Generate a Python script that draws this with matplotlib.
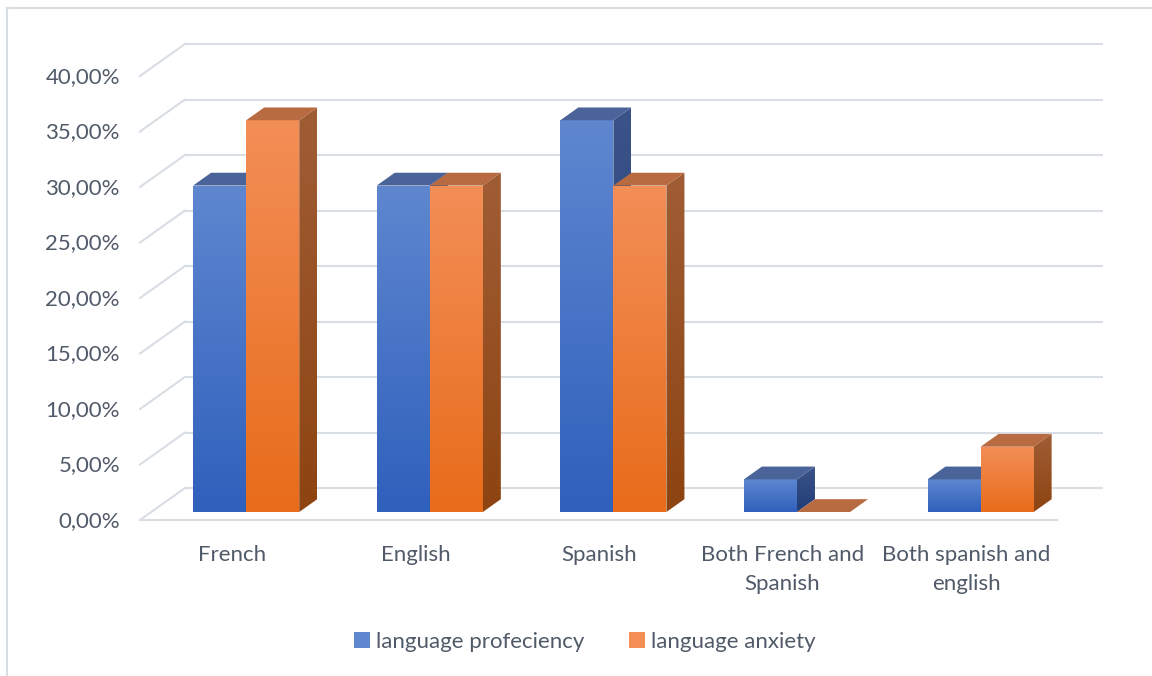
import numpy as np
import matplotlib
matplotlib.use('Agg')
import matplotlib.pyplot as plt
from matplotlib.patches import Polygon, Patch
from matplotlib.lines import Line2D
from matplotlib.colors import LinearSegmentedColormap
from matplotlib.transforms import offset_copy

categories = ['French', 'English', 'Spanish', 'Both French and\nSpanish', 'Both spanish and\nenglish']
proficiency = [29.41, 29.41, 35.29, 2.94, 2.94]
anxiety = [35.29, 29.41, 29.41, 0.0, 5.88]
series_names = ['language profeciency', 'language anxiety']
yticks = [0, 5, 10, 15, 20, 25, 30, 35, 40]

plt.rcParams['font.family'] = ['Lato', 'DejaVu Sans']
txt = '#505a68'
grid = '#d9dde4'
fs = 16

# face colours: front (bottom, top), top face, side (bottom, top)
blue = dict(front=('#2f60bc', '#5f87d0'), top='#4a6399', side=('#223d77', '#3a5489'))
orange = dict(front=('#e86c1a', '#f38e57'), top='#b86a40', side=('#8d4411', '#a05d35'))

W, H = 1152, 676
fig = plt.figure(figsize=(W / 100, H / 100), dpi=100)
ax = fig.add_axes([0, 0, 1, 1])
ax.axis('off')

# pixel scale of the front plane: one category = 183.6 px, 1 % = 11.1 px
px_cat, px_pct = 183.6, 11.1
x_left, y_zero = 140, 520

# oblique depth of the plot box in data units
DX, DY = 45 / px_cat, 32 / px_pct
d_front, d_back = 0.25, 0.65
bw = 0.289
shift = 0.017

# back wall, left wall and floor grid
for v in yticks:
    ax.plot([-0.5 + DX, 4.5 + DX], [v + DY, v + DY], color=grid, lw=1.5, zorder=1,
            solid_capstyle='butt')
    ax.plot([-0.5, -0.5 + DX], [v, v + DY], color=grid, lw=1.5, zorder=1)
ax.plot([-0.5, 4.5], [0, 0], color=grid, lw=1.5, zorder=1, solid_capstyle='butt')

grad = np.linspace(0, 1, 128).reshape(-1, 1)


def shaded(poly_pts, cols, z):
    poly = Polygon(poly_pts, closed=True, facecolor='none', edgecolor='none')
    ax.add_patch(poly)
    xs = [p[0] for p in poly_pts]
    ys = [p[1] for p in poly_pts]
    cmap = LinearSegmentedColormap.from_list('g', list(cols))
    im = ax.imshow(grad, cmap=cmap, origin='lower', aspect='auto', interpolation='bilinear',
                   extent=(min(xs), max(xs), min(ys), max(ys)), zorder=z)
    im.set_clip_path(poly)


def bar3d(x0, h, col, z):
    fx = x0 + d_front * DX
    fy = d_front * DY
    ddx = (d_back - d_front) * DX
    ddy = (d_back - d_front) * DY
    if h > 0:
        shaded([(fx, fy), (fx + bw, fy), (fx + bw, fy + h), (fx, fy + h)], col['front'], z)
        shaded([(fx + bw, fy), (fx + bw + ddx, fy + ddy), (fx + bw + ddx, fy + h + ddy),
                (fx + bw, fy + h)], col['side'], z)
    ax.add_patch(Polygon([(fx, fy + h), (fx + bw, fy + h), (fx + bw + ddx, fy + h + ddy),
                          (fx + ddx, fy + h + ddy)], closed=True, facecolor=col['top'],
                         edgecolor='none', zorder=z))


for i in range(len(categories)):
    bar3d(i - bw + shift, proficiency[i], blue, 2 + 2 * i)
    bar3d(i + shift, anxiety[i], orange, 3 + 2 * i)

# axis labels
tr_y = offset_copy(ax.transData, fig, x=-20, y=-1, units='dots')
for v in yticks:
    ax.text(-0.5, v, ('%.2f' % v).replace('.', ',') + '%', ha='right', va='center',
            fontsize=fs, color=txt, transform=tr_y)

tr_x = offset_copy(ax.transData, fig, x=0, y=-25, units='dots')
for i, c in enumerate(categories):
    ax.text(i, 0, c, ha='center', va='top', fontsize=fs, color=txt, linespacing=1.55,
            transform=tr_x)

ax.set_xlim(-0.5 - x_left / px_cat, -0.5 + (W - x_left) / px_cat)
ax.set_ylim(-(H - y_zero) / px_pct, y_zero / px_pct)

handles = [Patch(facecolor=blue['front'][1], edgecolor='none'),
           Patch(facecolor=orange['front'][1], edgecolor='none')]
leg = fig.legend(handles, series_names, loc='center', bbox_to_anchor=(585 / W, 1 - 642 / H),
                 ncol=2, frameon=False, fontsize=fs, handlelength=0.7, handleheight=0.7,
                 handletextpad=0.3, columnspacing=2.0)
for t in leg.get_texts():
    t.set_color(txt)

# chart border
fig.add_artist(Line2D([7 / W, 1], [1 - 8 / H, 1 - 8 / H], color=grid, lw=1.5))
fig.add_artist(Line2D([7 / W, 7 / W], [0, 1 - 8 / H], color=grid, lw=1.5))

fig.savefig('out.png', dpi=100)
